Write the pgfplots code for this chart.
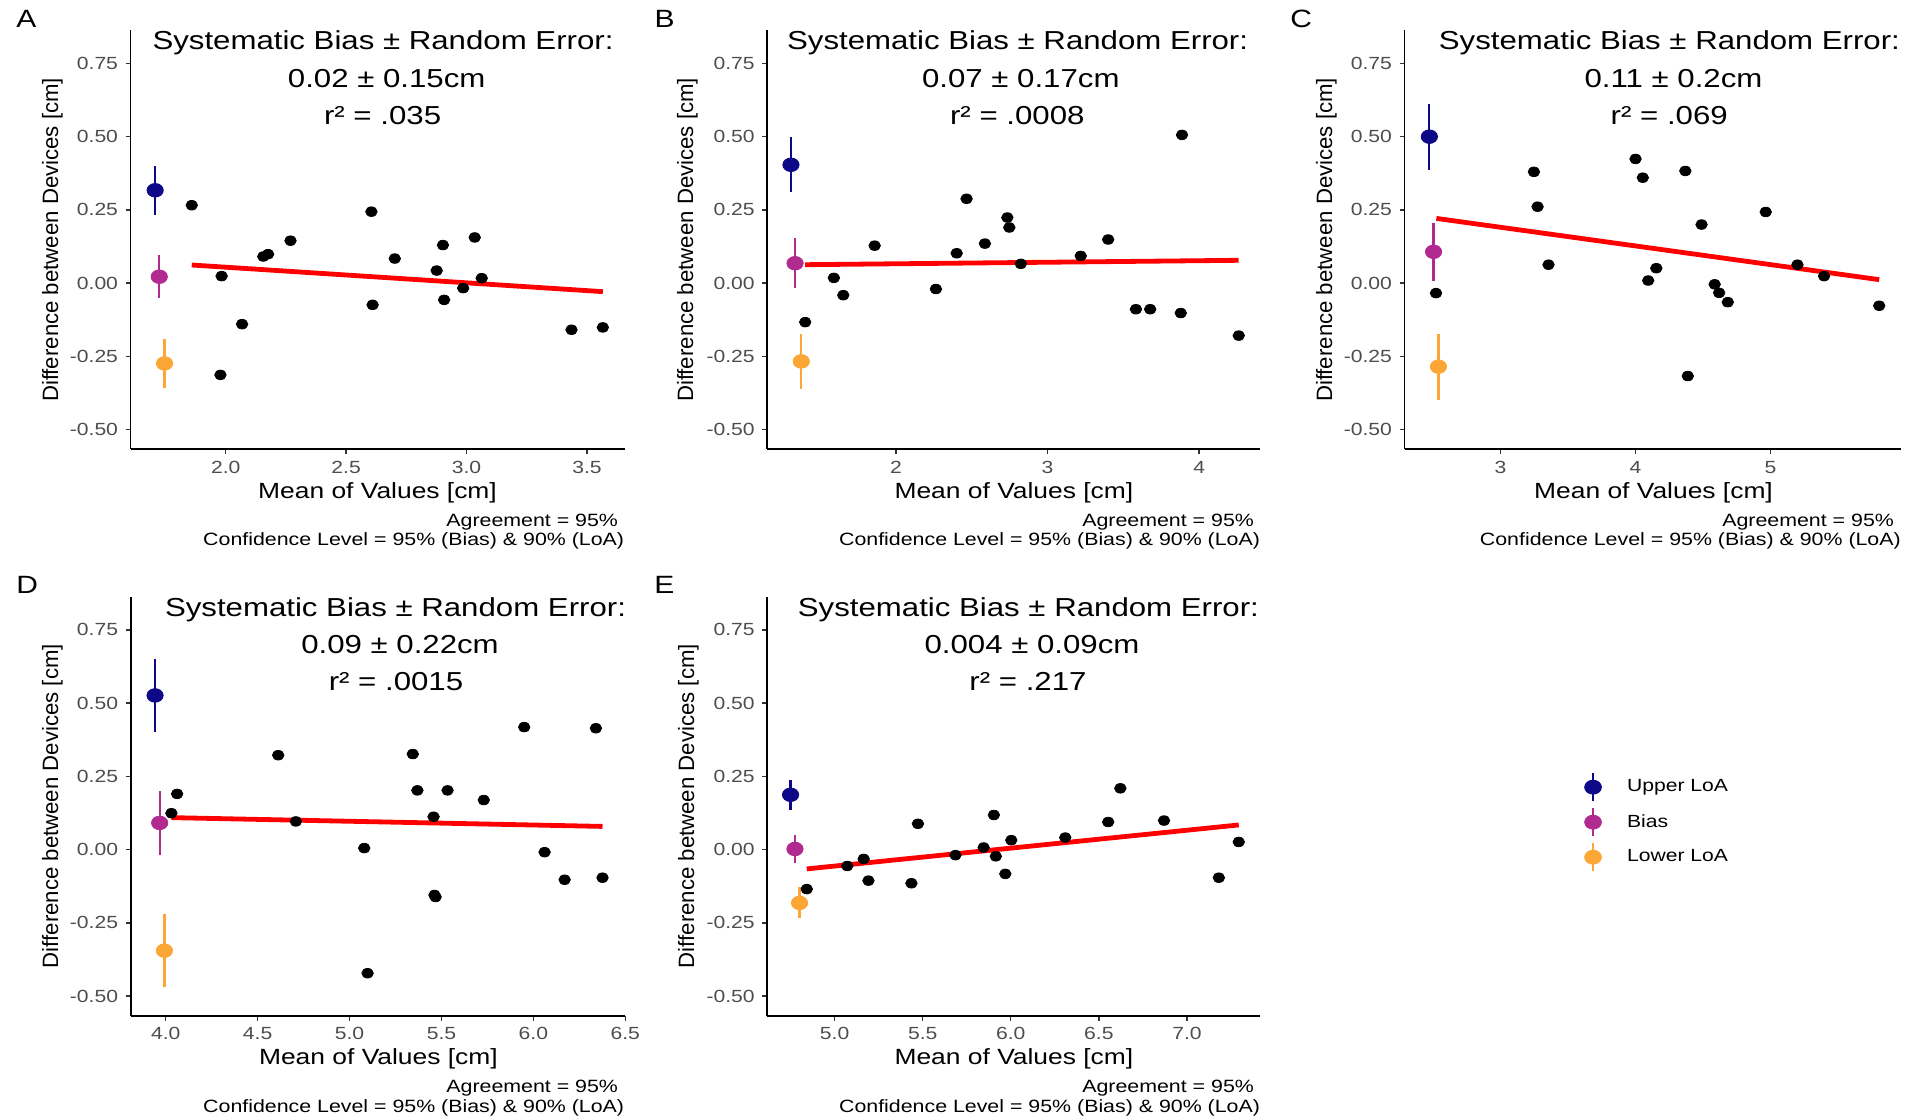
\documentclass[border=0pt]{standalone}
\usepackage{pgfplots}
\pgfplotsset{compat=1.18}
\usepackage{fontspec}
\setmainfont{Liberation Sans}[FakeStretch=1.2]
\newfontfamily\ylabfont{Liberation Sans}
\definecolor{upperc}{HTML}{0D0887}
\definecolor{biasc}{HTML}{B12A90}
\definecolor{lowerc}{HTML}{FCA636}
\definecolor{tickgray}{HTML}{4D4D4D}
\definecolor{tickline}{HTML}{333333}
\newcommand{\titlefont}{\fontsize{13}{15}\selectfont}
\newcommand{\labfont}{\fontsize{11}{13}\selectfont}
\newcommand{\capfont}{\fontsize{8.9}{10.5}\selectfont}
\pgfplotsset{
  baplot/.style={
    scale only axis, anchor=south west,
    height=209.5pt,
    ymin=-0.567, ymax=0.863,
    axis x line*=bottom, axis y line*=left,
    x axis line style={-}, y axis line style={-},
    axis line style={line width=0.9pt, black},
    tick align=outside,
    major tick length=2.5pt,
    tick style={line width=0.7pt, tickline},
    ytick={-0.5,-0.25,0,0.25,0.5,0.75},
    yticklabels={-0.50,-0.25,0.00,0.25,0.50,0.75},
    ticklabel style={font=\fontsize{8.8}{10}\selectfont, text=tickgray, inner sep=0pt},
    xticklabel shift=3.2pt, yticklabel shift=3.6pt,
    clip=false,
  },
  dots/.style={only marks, mark=*, black, mark size=2.4pt, mark options={xscale=1.2}, forget plot},
  loa/.style={only marks, mark=*, mark size=3.4pt, mark options={xscale=1.2},
    error bars/y dir=both, error bars/y explicit, error bars/error mark=none,
    error bars/error bar style={line width=1.1pt}},
  fit/.style={red, line width=2.4pt, no marks, forget plot},
}
\begin{document}
\begin{tikzpicture}
% ---------------- A ----------------
\begin{axis}[baplot, at={(65.3pt,334.85pt)}, width=246.95pt,
  xmin=1.605, xmax=3.656, xtick={2,2.5,3,3.5}, xticklabels={2.0,2.5,3.0,3.5}]
\addplot[dots] coordinates {(1.859,0.266) (1.983,0.024) (1.978,-0.313) (2.068,-0.140) (2.156,0.091) (2.176,0.099) (2.269,0.145) (2.605,0.244) (2.610,-0.074) (2.702,0.084) (2.876,0.043) (2.902,0.130) (2.907,-0.057) (2.986,-0.017) (3.034,0.156) (3.063,0.017) (3.436,-0.159) (3.566,-0.151)};
\addplot[upperc, loa] coordinates {(1.707,0.317) +- (0,0.084)};
\addplot[biasc, loa] coordinates {(1.724,0.022) +- (0,0.073)};
\addplot[lowerc, loa] coordinates {(1.746,-0.274) +- (0,0.085)};
\addplot[fit] coordinates {(1.859,0.062) (3.566,-0.029)};
\end{axis}
% ---------------- B ----------------
\begin{axis}[baplot, at={(383.65pt,334.85pt)}, width=246.55pt,
  xmin=1.152, xmax=4.404, xtick={2,3,4}, xticklabels={2,3,4}]
\addplot[dots] coordinates {(1.402,-0.133) (1.591,0.018) (1.653,-0.041) (1.860,0.128) (2.264,-0.020) (2.401,0.102) (2.466,0.288) (2.587,0.135) (2.735,0.224) (2.748,0.190) (2.824,0.066) (3.219,0.093) (3.400,0.149) (3.583,-0.089) (3.677,-0.089) (3.887,0.506) (3.879,-0.102) (4.261,-0.179)};
\addplot[upperc, loa] coordinates {(1.308,0.404) +- (0,0.094)};
\addplot[biasc, loa] coordinates {(1.335,0.068) +- (0,0.085)};
\addplot[lowerc, loa] coordinates {(1.376,-0.267) +- (0,0.094)};
\addplot[fit] coordinates {(1.402,0.063) (4.261,0.078)};
\end{axis}
% ---------------- C ----------------
\begin{axis}[baplot, at={(702.25pt,334.85pt)}, width=248.35pt,
  xmin=2.290, xmax=5.967, xtick={3,4,5}, xticklabels={3,4,5}]
\addplot[dots] coordinates {(2.523,-0.034) (3.248,0.380) (3.275,0.261) (3.356,0.063) (4.000,0.424) (4.054,0.360) (4.094,0.009) (4.154,0.051) (4.369,0.383) (4.387,-0.317) (4.489,0.200) (4.586,-0.004) (4.619,-0.033) (4.683,-0.065) (4.964,0.243) (5.199,0.063) (5.396,0.024) (5.804,-0.077)};
\addplot[upperc, loa] coordinates {(2.474,0.500) +- (0,0.113)};
\addplot[biasc, loa] coordinates {(2.505,0.107) +- (0,0.099)};
\addplot[lowerc, loa] coordinates {(2.541,-0.285) +- (0,0.113)};
\addplot[fit] coordinates {(2.526,0.221) (5.804,0.012)};
\end{axis}
% ---------------- D ----------------
\begin{axis}[baplot, at={(65.3pt,51.65pt)}, width=247.35pt,
  xmin=3.809, xmax=6.5, xtick={4,4.5,5,5.5,6,6.5}, xticklabels={4.0,4.5,5.0,5.5,6.0,6.5}]
\addplot[dots] coordinates {(4.031,0.124) (4.062,0.190) (4.612,0.322) (4.708,0.096) (5.080,0.005) (5.098,-0.422) (5.344,0.326) (5.369,0.202) (5.457,0.112) (5.462,-0.155) (5.468,-0.162) (5.533,0.202) (5.730,0.169) (5.950,0.418) (6.061,-0.009) (6.170,-0.103) (6.340,0.414) (6.376,-0.096)};
\addplot[upperc, loa] coordinates {(3.942,0.526) +- (0,0.124)};
\addplot[biasc, loa] coordinates {(3.967,0.091) +- (0,0.108)};
\addplot[lowerc, loa] coordinates {(3.993,-0.345) +- (0,0.124)};
\addplot[fit] coordinates {(4.031,0.109) (6.376,0.079)};
\end{axis}
% ---------------- E ----------------
\begin{axis}[baplot, at={(383.65pt,51.65pt)}, width=246.55pt,
  xmin=4.618, xmax=7.417, xtick={5,5.5,6,6.5,7}, xticklabels={5.0,5.5,6.0,6.5,7.0},
  legend style={at={(1.6563,0.586)}, anchor=north west, draw=none, fill=none,
    inner sep=0pt, outer sep=0pt, row sep=0.5pt, column sep=10.5pt,
    font=\fontsize{8.8}{10}\selectfont},
  legend cell align=left,
  legend image code/.code={
    \draw[line width=1.1pt] (4.5pt,-6.85pt) -- (4.5pt,6.85pt);
    \fill (4.5pt,0pt) ellipse [x radius=4.2pt, y radius=3.5pt];
    \path[draw=none, fill=none] (0pt,-8.5pt) rectangle (9pt,8.5pt);
  }]
\addplot[dots] coordinates {(4.842,-0.135) (5.072,-0.056) (5.165,-0.032) (5.192,-0.106) (5.436,-0.115) (5.473,0.088) (5.686,-0.019) (5.846,0.007) (5.904,0.118) (5.915,-0.023) (5.969,-0.083) (6.003,0.032) (6.309,0.041) (6.553,0.094) (6.622,0.209) (6.870,0.099) (7.181,-0.096) (7.294,0.026)};
\addplot[upperc, loa] coordinates {(4.750,0.187) +- (0,0.052)};
\addlegendentry{Upper LoA}
\addplot[biasc, loa] coordinates {(4.775,0.002) +- (0,0.047)};
\addlegendentry{Bias}
\addplot[lowerc, loa] coordinates {(4.801,-0.182) +- (0,0.053)};
\addlegendentry{Lower LoA}
\addplot[fit] coordinates {(4.842,-0.066) (7.294,0.084)};
\end{axis}
% ---------------- texts ----------------
\begin{scope}[every node/.style={inner sep=0pt}]
% panel letters
\node[anchor=base west, font=\fontsize{12.5}{14}\selectfont] at (8pt,545.55pt) {A};
\node[anchor=base west, font=\fontsize{12.5}{14}\selectfont] at (327.15pt,545.55pt) {B};
\node[anchor=base west, font=\fontsize{12.5}{14}\selectfont] at (645pt,545.55pt) {C};
\node[anchor=base west, font=\fontsize{12.5}{14}\selectfont] at (8pt,262.55pt) {D};
\node[anchor=base west, font=\fontsize{12.5}{14}\selectfont] at (327pt,262.55pt) {E};
% titles
\node[anchor=base, font=\titlefont] at (191.5pt,534.5pt) {Systematic Bias ± Random Error:};
\node[anchor=base, font=\titlefont] at (193.35pt,515.75pt) {0.02 ± 0.15cm};
\node[anchor=base, font=\titlefont] at (191.3pt,497pt) {r² = .035};
\node[anchor=base, font=\titlefont] at (508.8pt,534.5pt) {Systematic Bias ± Random Error:};
\node[anchor=base, font=\titlefont] at (510.4pt,515.75pt) {0.07 ± 0.17cm};
\node[anchor=base, font=\titlefont] at (508.65pt,497pt) {r² = .0008};
\node[anchor=base, font=\titlefont] at (834.7pt,534.5pt) {Systematic Bias ± Random Error:};
\node[anchor=base, font=\titlefont] at (836.75pt,515.75pt) {0.11 ± 0.2cm};
\node[anchor=base, font=\titlefont] at (834.6pt,497pt) {r² = .069};
\node[anchor=base, font=\titlefont] at (197.75pt,251.45pt) {Systematic Bias ± Random Error:};
\node[anchor=base, font=\titlefont] at (200pt,232.7pt) {0.09 ± 0.22cm};
\node[anchor=base, font=\titlefont] at (198pt,214.3pt) {r² = .0015};
\node[anchor=base, font=\titlefont] at (514.2pt,251.45pt) {Systematic Bias ± Random Error:};
\node[anchor=base, font=\titlefont] at (516pt,232.7pt) {0.004 ± 0.09cm};
\node[anchor=base, font=\titlefont] at (514pt,214.3pt) {r² = .217};
% x labels
\node[anchor=base, font=\labfont] at (188.75pt,310.4pt) {Mean of Values [cm]};
\node[anchor=base, font=\labfont] at (506.95pt,310.4pt) {Mean of Values [cm]};
\node[anchor=base, font=\labfont] at (826.75pt,310.4pt) {Mean of Values [cm]};
\node[anchor=base, font=\labfont] at (189.2pt,27.2pt) {Mean of Values [cm]};
\node[anchor=base, font=\labfont] at (506.95pt,27.2pt) {Mean of Values [cm]};
% y labels
\node[rotate=90, anchor=base, font={\ylabfont\fontsize{11.1}{13}\selectfont}] at (29pt,439.55pt) {Difference between Devices [cm]};
\node[rotate=90, anchor=base, font={\ylabfont\fontsize{11.1}{13}\selectfont}] at (346.5pt,439.55pt) {Difference between Devices [cm]};
\node[rotate=90, anchor=base, font={\ylabfont\fontsize{11.1}{13}\selectfont}] at (666pt,439.55pt) {Difference between Devices [cm]};
\node[rotate=90, anchor=base, font={\ylabfont\fontsize{11.1}{13}\selectfont}] at (29pt,156.45pt) {Difference between Devices [cm]};
\node[rotate=90, anchor=base, font={\ylabfont\fontsize{11.1}{13}\selectfont}] at (347pt,156.45pt) {Difference between Devices [cm]};
% captions
\node[anchor=base east, font=\capfont] at (309.2pt,296.1pt) {Agreement = 95\%};
\node[anchor=base east, font=\capfont] at (312.25pt,286.65pt) {Confidence Level = 95\% (Bias) \& 90\% (LoA)};
\node[anchor=base east, font=\capfont] at (627.15pt,296.1pt) {Agreement = 95\%};
\node[anchor=base east, font=\capfont] at (630.2pt,286.65pt) {Confidence Level = 95\% (Bias) \& 90\% (LoA)};
\node[anchor=base east, font=\capfont] at (947.15pt,296.1pt) {Agreement = 95\%};
\node[anchor=base east, font=\capfont] at (950.6pt,286.65pt) {Confidence Level = 95\% (Bias) \& 90\% (LoA)};
\node[anchor=base east, font=\capfont] at (309.2pt,13.05pt) {Agreement = 95\%};
\node[anchor=base east, font=\capfont] at (312.25pt,3.3pt) {Confidence Level = 95\% (Bias) \& 90\% (LoA)};
\node[anchor=base east, font=\capfont] at (627.15pt,13.05pt) {Agreement = 95\%};
\node[anchor=base east, font=\capfont] at (630.2pt,3.3pt) {Confidence Level = 95\% (Bias) \& 90\% (LoA)};
\end{scope}
\pgfresetboundingbox
\path[use as bounding box] (0pt,0pt) rectangle (958.5pt,559.5pt);
\end{tikzpicture}
\end{document}
